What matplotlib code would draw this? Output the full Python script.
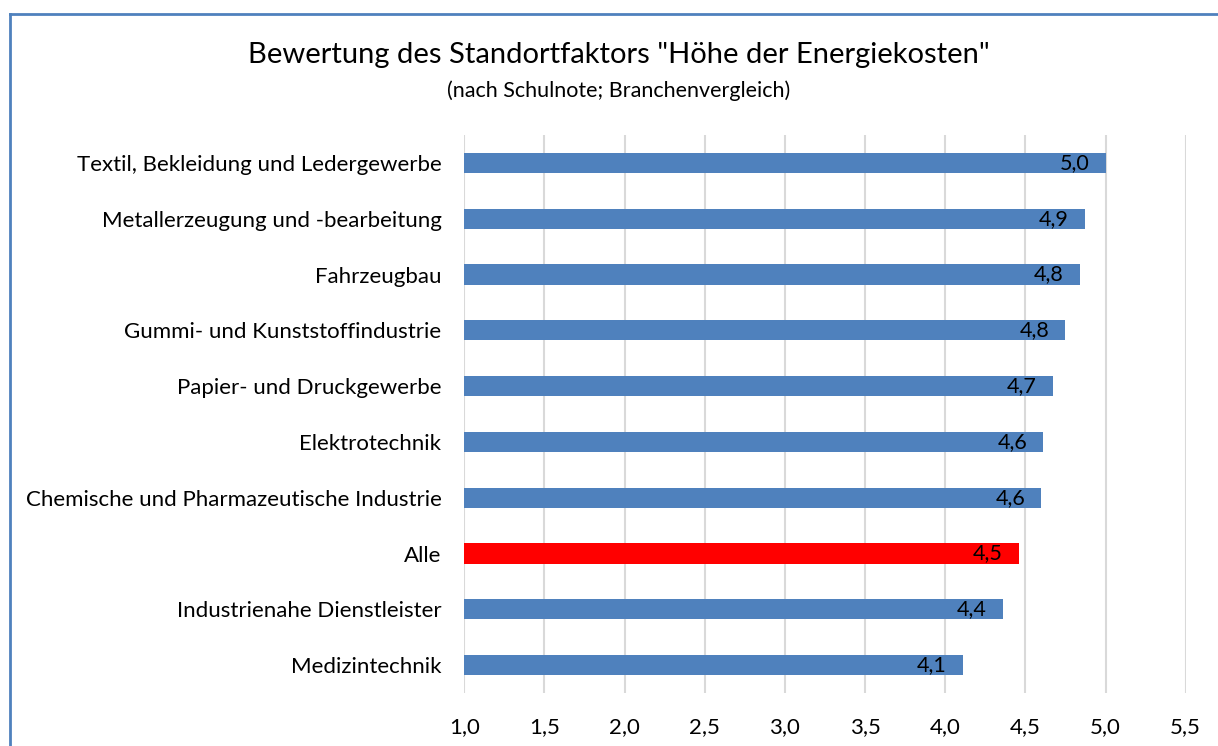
import matplotlib.pyplot as plt
from matplotlib.lines import Line2D

plt.rcParams['font.family'] = ['Lato', 'DejaVu Sans']

categories = [
    'Textil, Bekleidung und Ledergewerbe',
    'Metallerzeugung und -bearbeitung',
    'Fahrzeugbau',
    'Gummi- und Kunststoffindustrie',
    'Papier- und Druckgewerbe',
    'Elektrotechnik',
    'Chemische und Pharmazeutische Industrie',
    'Alle',
    'Industrienahe Dienstleister',
    'Medizintechnik',
]
values = [5.00, 4.87, 4.84, 4.75, 4.67, 4.61, 4.60, 4.46, 4.36, 4.11]
xticks = [1.0, 1.5, 2.0, 2.5, 3.0, 3.5, 4.0, 4.5, 5.0, 5.5]

blue = '#4f81bd'
red = '#ff0000'
colors = [red if c == 'Alle' else blue for c in categories]

fig = plt.figure(figsize=(12.18, 7.46), dpi=100)
ax = fig.add_axes([0.3812, 0.0710, 0.5923, 0.748])

y = list(range(len(categories)))
ax.barh(y, values, height=0.36, color=colors, zorder=3)
for yi, v in zip(y, values):
    ax.annotate(f'{v:.1f}'.replace('.', ','), xy=(v, yi), xytext=(-16, 0),
                textcoords='offset pixels',
                ha='right', va='center', fontsize=15.5, color='black', zorder=4)

ax.set_xlim(1.0, 5.5)
ax.set_ylim(len(categories) - 0.5, -0.5)
ax.set_xticks(xticks)
ax.set_xticklabels([f'{t:.1f}'.replace('.', ',') for t in xticks], fontsize=16)
ax.set_yticks(y)
ax.set_yticklabels(categories, fontsize=16)
ax.tick_params(length=0)
ax.tick_params(axis='y', pad=16.5)
ax.tick_params(axis='x', pad=17)
ax.xaxis.grid(True, color='#d9d9d9', lw=1.5, zorder=0)
for s in ax.spines.values():
    s.set_visible(False)

fig.text(0.508, 0.926, 'Bewertung des Standortfaktors "Höhe der Energiekosten"',
         ha='center', va='center', fontsize=21)
fig.text(0.508, 0.879, '(nach Schulnote; Branchenvergleich)',
         ha='center', va='center', fontsize=15.5)

# chart border (left and top visible)
fig.add_artist(Line2D([9.5 / 1218, 9.5 / 1218], [0, 1 - 13.5 / 746],
                      color='#4f81bd', lw=2, transform=fig.transFigure))
fig.add_artist(Line2D([9.5 / 1218, 1], [1 - 13.5 / 746, 1 - 13.5 / 746],
                      color='#4f81bd', lw=2, transform=fig.transFigure))

plt.savefig('out.png', dpi=100)
plt.close()
